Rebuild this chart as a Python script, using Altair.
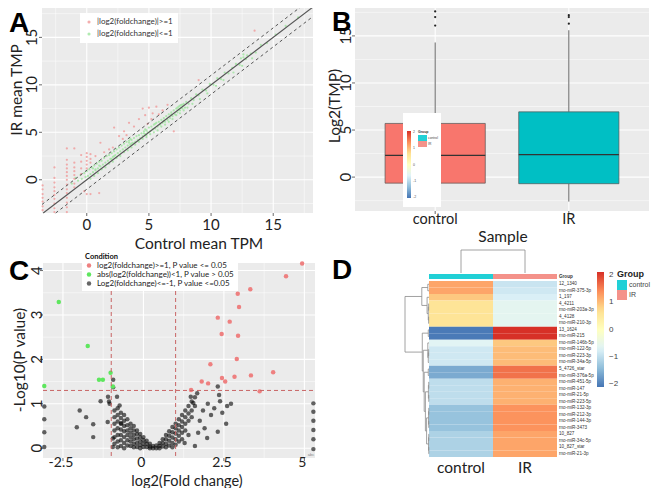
import altair as alt
import pandas as pd

OFF = 8
def P(v):
    return v - OFF

FONT = "Lato"
SANS = "Liberation Sans"
BG = "#EBEBEB"
TXT = "#222222"
ONE = pd.DataFrame({"k": [0]})

# ---------------- Panel A data ----------------
a_red_pts = [
    (-3.55, -0.6), (-3.55, -1.0), (-3.55, -1.5), (-3.55, -1.9), (-3.55, -2.3), (-3.55, -2.8), (-3.55, -3.2),
    (-2.6, 1.3), (-2.6, 0.2), (-2.6, -0.3), (-2.6, -0.8), (-2.6, -1.2), (-2.6, -1.6), (-2.6, -2.0), (-2.6, -2.5), (-2.6, -3.0), (-2.6, -3.4),
    (-1.6, 3.3), (-1.6, 2.1), (-1.6, 1.6), (-1.6, 1.2), (-1.6, 0.8), (-1.6, 0.4), (-1.6, 0.0), (-1.6, -0.5), (-1.6, -1.0), (-1.6, -1.4), (-1.6, -1.9), (-1.6, -2.4), (-1.6, -2.9), (-1.6, -3.4),
    (-1.0, 3.3), (-1.0, 1.8), (-1.0, 1.3), (-1.0, 0.9), (-1.0, 0.5), (-1.0, 0.1), (-1.0, -0.4), (-1.0, -0.8),
    (-0.45, 2.6), (-0.45, 1.9), (-0.45, 1.2), (-0.45, 0.6),
    (0.0, 2.8), (0.0, 2.4), (0.0, 2.0), (0.0, 1.6), (0.0, 1.2), (0.0, -1.5),
    (0.3, 2.7), (0.3, 2.2), (0.3, 1.8), (0.3, -1.5),
    (0.7, 2.5), (1.1, 3.9), (1.4, 2.9), (1.8, 3.2), (2.1, 3.4), (2.2, 5.5), (2.6, 4.6), (2.9, 4.3),
    (3.0, 5.1), (3.2, 4.7), (3.4, 6.0), (3.8, 5.6), (4.2, 6.4), (4.5, 7.5), (4.7, 6.8), (4.9, 5.9),
    (5.0, 7.6), (5.2, 6.4), (5.3, 7.0), (5.6, 7.7), (5.8, 6.9), (6.1, 7.3), (6.5, 7.9), (7.0, 5.1),
    (9.0, 10.5), (13.5, 15.7), (1.0, -1.4), (-0.2, -1.2),
]
a_green_pts = [
    (-1.2, -0.4), (-0.9, 0.2), (-0.7, -0.1), (-0.5, 0.5), (-0.4, 0.1), (-0.2, 0.7), (-0.1, 0.3), (0.0, 0.9),
    (0.1, 0.4), (0.2, 1.1), (0.3, 0.6), (0.4, 1.3), (0.5, 0.8), (0.6, 1.5), (0.7, 1.0), (0.8, 1.7), (0.9, 1.2),
    (1.0, 1.9), (1.1, 1.4), (1.2, 2.0), (1.3, 1.6), (1.4, 2.3), (1.5, 1.8), (1.6, 2.5), (1.7, 2.0), (1.8, 2.6),
    (1.9, 2.2), (2.0, 2.8), (2.1, 2.4), (2.2, 3.0), (2.3, 2.6), (2.4, 3.2), (2.5, 2.8), (2.6, 3.4), (2.7, 3.0),
    (2.8, 3.6), (2.9, 3.2), (3.0, 3.8), (3.1, 3.4), (3.2, 4.0), (3.3, 3.6), (3.4, 4.1), (3.5, 3.7), (3.6, 4.2),
    (3.7, 3.9), (3.8, 4.4), (3.9, 4.0), (4.0, 4.6), (4.1, 4.2), (4.2, 4.7), (4.3, 4.4), (4.4, 4.9), (4.5, 4.6),
    (4.6, 5.1), (4.7, 4.8), (4.8, 5.2), (4.9, 5.0), (5.0, 5.5), (5.1, 5.1), (5.2, 5.6), (5.3, 5.3), (5.4, 5.8),
    (5.5, 5.4), (5.6, 6.0), (5.7, 5.6), (5.8, 6.1), (5.9, 5.8), (6.0, 6.3), (6.1, 6.0), (6.2, 6.5), (6.3, 6.1),
    (6.4, 6.7), (6.5, 6.3), (6.6, 6.9), (6.7, 6.5), (6.8, 7.1), (6.9, 6.7), (7.0, 7.3), (7.1, 6.9), (7.2, 7.5),
    (7.3, 7.1), (7.4, 7.7), (7.5, 7.3), (7.6, 7.9), (7.7, 7.5), (7.8, 8.0), (7.9, 7.6), (8.0, 8.2), (8.2, 8.0),
    (8.4, 8.6), (8.6, 8.4), (8.8, 9.0), (9.0, 8.9), (9.3, 9.5), (9.6, 9.4), (9.9, 10.1), (10.2, 10.0),
    (10.5, 10.7), (10.8, 10.6), (11.1, 11.3), (11.4, 11.2), (11.7, 11.8), (12.0, 12.2), (12.3, 12.1),
    (12.6, 12.9), (12.9, 13.1), (13.2, 13.3), (13.6, 13.4), (14.0, 14.2), (14.5, 14.4), (15.2, 15.3),
    (16.0, 16.2), (17.0, 17.1),
    (0.3, 0.1), (0.6, 0.4), (0.9, 0.7), (1.2, 1.1), (1.5, 1.3), (1.8, 1.7), (2.1, 1.9), (2.4, 2.3), (2.7, 2.5),
    (3.0, 2.9), (3.3, 3.1), (3.6, 3.4), (3.9, 3.7), (4.2, 4.0), (4.5, 4.3), (4.8, 4.5), (5.1, 4.8), (5.4, 5.0),
    (5.7, 5.2), (6.0, 5.6), (6.3, 5.8), (6.6, 6.1), (6.9, 6.4), (7.2, 6.8), (7.5, 7.0), (7.8, 7.3), (8.1, 7.6),
    (8.5, 8.0), (9.1, 8.5), (9.7, 9.1), (10.4, 9.9), (11.0, 10.5), (11.8, 11.3), (12.5, 12.0), (13.3, 12.8),
    (3.4, 3.9), (3.5, 4.3), (3.6, 3.8), (4.6, 4.9), (4.7, 5.3), (4.8, 4.7), (7.4, 7.4), (7.5, 7.8), (7.6, 7.6),
    (7.7, 7.9), (7.3, 7.6), (12.4, 12.8), (12.6, 13.2), (12.8, 12.7), (2.0, 2.2), (2.2, 2.5), (1.0, 1.5),
    (0.5, 1.2), (0.7, 1.1), (5.5, 5.9), (6.2, 6.2), (6.8, 6.9),
]
a_labels = ["|log2(foldchange)|>=1", "|log2(foldchange)|<=1"]
a_ticks = [0, 5, 10, 15]
a_minor = [-2.5, 2.5, 7.5, 12.5, 17.5]

# ---------------- Panel B data ----------------
b_groups = ["control", "IR"]
b_pos = [1, 2]
b_lo = [-2.6, -2.6]
b_q1 = [-0.64, -0.7]
b_med = [2.31, 2.38]
b_q3 = [5.7, 6.93]
b_hi = [14.3, 15.6]
b_fill = ["#F8766D", "#00BFC4"]
b_out_pos = [1, 1, 1, 2, 2, 2]
b_out_y = [17.6, 17.0, 16.1, 17.2, 17.0, 16.3]
b_ticks = [0, 5, 10, 15]
b_minor = [-2.5, 2.5, 7.5, 12.5, 17.5]

# ---------------- Panel C data ----------------
c_red_pts = [
    (4.93, 4.16), (4.43, 3.87), (3.32, 3.58), (2.93, 3.48), (2.97, 3.18), (2.31, 2.94), (2.68, 2.85),
    (2.43, 2.57), (2.94, 2.53), (2.90, 2.01), (2.08, 1.89), (4.03, 1.71), (3.34, 1.64), (2.83, 1.61),
    (2.44, 1.58), (2.54, 1.50), (1.81, 1.50), (2.01, 1.46), (1.48, 1.31), (3.61, 1.28),
]
c_green_pts = [
    (-2.63, 3.29), (-1.73, 2.30), (-1.02, 1.70), (-1.38, 1.54), (-1.26, 1.54), (-0.95, 1.39), (-3.08, 1.40),
]
c_black_side = [
    (-3.08, 0.94), (-3.08, 0.65), (-3.08, 0.36), (-3.08, 0.03),
    (-2.07, 0.47), (-1.98, 0.85), (-1.78, 0.70), (-1.56, 0.54), (-1.56, 0.25), (-1.33, 1.06), (-1.05, 1.0),
    (-1.11, 0.59), (-1.10, 1.16), (-1.07, 1.05), (-0.94, 1.54), (-0.94, 1.37), (-0.82, 1.16), (-0.74, 0.96),
    (-0.95, 0.03), (-0.95, 0.22), (-0.69, 0.56),
    (1.28, 0.12), (1.67, 1.24), (1.47, 1.16), (1.55, 1.02), (2.0, 1.0), (2.31, 1.39), (2.35, 1.2), (2.38, 1.06),
    (2.72, 1.0), (2.57, 0.55), (2.31, 0.37), (1.98, 0.23), (1.6, 0.05), (2.1, 0.75), (1.85, 0.85), (1.75, 0.62),
    (2.2, 0.9), (2.45, 0.8), (1.9, 0.45), (2.6, 0.95), (1.4, 0.3), (1.7, 0.35),
    (5.28, 1.01), (5.28, 0.82), (5.28, 0.62), (5.28, 0.41), (5.28, 0.20), (5.28, -0.02),
]
c_black_cols = {
    -0.9: [0.85, 0.7, 0.55, 0.4, 0.25, 0.1],
    -0.8: [0.9, 0.75, 0.6, 0.45, 0.3, 0.15, 0.02],
    -0.7: [0.8, 0.68, 0.55, 0.42, 0.3, 0.18, 0.05],
    -0.6: [0.75, 0.62, 0.5, 0.38, 0.25, 0.12, 0.0],
    -0.5: [0.65, 0.52, 0.4, 0.3, 0.18, 0.06],
    -0.4: [0.55, 0.45, 0.35, 0.25, 0.15, 0.05],
    -0.3: [0.5, 0.4, 0.3, 0.2, 0.1, 0.02],
    -0.2: [0.4, 0.32, 0.22, 0.12, 0.03],
    -0.1: [0.32, 0.24, 0.15, 0.07, 0.0],
    0.0: [0.25, 0.18, 0.1, 0.03],
    0.1: [0.17, 0.1, 0.03],
    0.2: [0.1, 0.04, 0.0],
    0.3: [0.05, 0.0],
    0.4: [0.06, 0.0],
    0.5: [0.12, 0.05, 0.0],
    0.6: [0.2, 0.12, 0.04],
    0.7: [0.3, 0.2, 0.1, 0.02],
    0.8: [0.38, 0.28, 0.17, 0.06],
    0.9: [0.48, 0.36, 0.24, 0.12, 0.02],
    1.0: [0.55, 0.45, 0.33, 0.2, 0.08],
    1.1: [0.65, 0.52, 0.4, 0.28, 0.15],
    1.2: [0.75, 0.6, 0.48, 0.35, 0.2],
    1.3: [0.85, 0.7, 0.55, 0.4],
    1.4: [0.95, 0.78, 0.62],
    1.5: [1.05, 0.85, 0.7],
    1.6: [1.15, 0.95],
}
c_labels = ["log2(foldchange)>=1, P value <= 0.05",
            "abs(log2(foldchange))<1, P value > 0.05",
            "Log2(foldchange)<=-1, P value <=0.05"]
c_xticks = [-2.5, 0, 2.5, 5]
c_xtick_labels = ["-2.5", "0", "2.5", "5"]
c_xminor = [-1.25, 1.25, 3.75]
c_yticks = [0, 1, 2, 3, 4]
c_yminor = [0.5, 1.5, 2.5, 3.5]

# ---------------- Panel D data ----------------
d_rows = ["12_1340", "rno-miR-375-3p", "1_197", "4_4211", "rno-miR-203a-3p", "4_4128", "rno-miR-210-3p",
          "13_1624", "rno-miR-215", "rno-miR-146b-5p", "rno-miR-122-5p", "rno-miR-223-3p", "rno-miR-34a-5p",
          "5_4726_star", "rno-miR-376a-5p", "rno-miR-451-5p", "rno-miR-147", "rno-miR-21-5p", "rno-miR-223-5p",
          "rno-miR-132-3p", "rno-miR-212-3p", "rno-miR-144-3p", "rno-miR-3473", "10_827", "rno-miR-34c-5p",
          "10_827_star", "rno-miR-21-3p"]
d_control = [1.2, 1.2, 0.9, 0.6, 0.6, 0.6, 0.6, -2.05, -2.05, -0.65, -0.85, -0.85, -0.85, -1.6, -1.6,
             -1.0, -1.0, -1.0, -1.0, -1.35, -1.35, -1.35, -1.35, -1.15, -1.15, -1.15, -1.15]
d_ir = [-0.9, -0.85, -0.75, -0.6, -0.6, -0.6, -0.6, 2.1, 2.1, 0.9, 1.0, 1.0, 1.0, 1.6, 1.6,
        1.1, 1.1, 1.1, 1.1, 1.35, 1.35, 1.35, 1.35, 1.2, 1.2, 1.2, 1.2]
d_cols = ["control", "IR"]
d_group_colors = ["#21D0D6", "#F4928A"]
d_heat_colors = ["#4575B4", "#91BFDB", "#E0F3F8", "#FFFFBF", "#FEE090", "#FC8D59", "#D73027"]
d_heat_stops = [-2.1, -1.4, -0.7, 0.0, 0.7, 1.4, 2.1]
# row dendrogram merges (child a, child b, height)
d_merges = [(0, 1, 0.05), (3, 4, 0.015), (5, 6, 0.015), (28, 29, 0.03), (2, 30, 0.08), (27, 31, 0.3),
            (7, 8, 0.03), (10, 11, 0.015), (34, 12, 0.03), (9, 35, 0.05), (13, 14, 0.03),
            (15, 16, 0.01), (17, 18, 0.01), (38, 39, 0.025), (19, 20, 0.01), (21, 22, 0.01),
            (41, 42, 0.02), (23, 24, 0.01), (25, 26, 0.01), (44, 45, 0.02), (43, 46, 0.1),
            (40, 47, 0.15), (37, 48, 0.2), (36, 49, 0.24), (33, 50, 0.28), (32, 51, 1.0)]


# ---------------- helpers ----------------
def lin(domain, r0, r1):
    return alt.Scale(domain=domain, range=[P(r0), P(r1)], nice=False, zero=False)


def box(x0, x1, y0, y1, color):
    return alt.Chart(ONE).mark_rect(color=color).encode(
        x=alt.value(P(x0)), x2=alt.value(P(x1)), y=alt.value(P(y0)), y2=alt.value(P(y1)))


def vrules(values, xs, y0, y1, color="white", width=1.0, dash=None):
    kw = dict(color=color, strokeWidth=width)
    if dash:
        kw["strokeDash"] = dash
    return alt.Chart(pd.DataFrame({"v": values})).mark_rule(**kw).encode(
        x=alt.X("v:Q", scale=xs, axis=None), y=alt.value(P(y0)), y2=alt.value(P(y1)))


def hrules(values, ys, x0, x1, color="white", width=1.0, dash=None):
    kw = dict(color=color, strokeWidth=width)
    if dash:
        kw["strokeDash"] = dash
    return alt.Chart(pd.DataFrame({"v": values})).mark_rule(**kw).encode(
        y=alt.Y("v:Q", scale=ys, axis=None), x=alt.value(P(x0)), x2=alt.value(P(x1)))


def xlabels(values, texts, xs, ypage, size=15, dx=0):
    df = pd.DataFrame({"v": values, "t": texts})
    return alt.Chart(df).mark_text(font=FONT, fontSize=size, color=TXT, align="center",
                                   baseline="middle", dx=dx).encode(
        x=alt.X("v:Q", scale=xs, axis=None), y=alt.value(P(ypage)), text="t:N")


def ylabels(values, texts, ys, xpage, size=15):
    df = pd.DataFrame({"v": values, "t": texts})
    return alt.Chart(df).mark_text(font=FONT, fontSize=size, color=TXT, align="center",
                                   baseline="middle", angle=270).encode(
        y=alt.Y("v:Q", scale=ys, axis=None), x=alt.value(P(xpage)), text="t:N")


def label(text, x, y, size, angle=0, weight="normal", font=FONT, align="center",
          baseline="middle", color=TXT):
    return alt.Chart(ONE).mark_text(text=text, font=font, fontSize=size, angle=angle,
                                    fontWeight=weight, align=align, baseline=baseline,
                                    color=color).encode(x=alt.value(P(x)), y=alt.value(P(y)))


layers = []

# ================= Panel A =================
AX = lin([-3.6, 18.2], 42, 313)
AY = lin([-3.5, 18.2], 213, 7)
layers.append(box(42, 313, 7, 213, BG))
layers.append(vrules(a_minor, AX, 7, 213, width=0.5))
layers.append(hrules(a_minor, AY, 42, 313, width=0.5))
layers.append(vrules(a_ticks, AX, 7, 213, width=1.1))
layers.append(hrules(a_ticks, AY, 42, 313, width=1.1))

a_df = pd.DataFrame(
    [(x, y, a_labels[1]) for x, y in a_green_pts] + [(x, y, a_labels[0]) for x, y in a_red_pts],
    columns=["x", "y", "cat"])
layers.append(alt.Chart(a_df).mark_circle(size=5, opacity=0.8).encode(
    x=alt.X("x:Q", scale=AX, axis=None),
    y=alt.Y("y:Q", scale=AY, axis=None),
    color=alt.Color("cat:N", scale=alt.Scale(domain=a_labels, range=["#F09A9A", "#9DE59D"]),
                    legend=alt.Legend(title=None, orient="none", legendX=P(80), legendY=P(13),
                                      fillColor="white", padding=5, labelFontSize=8, labelFont=FONT,
                                      labelColor="#333", symbolSize=10, rowPadding=4,
                                      symbolType="circle", labelLimit=200))))

# reference lines y = x, y = x +/- 1
a_lines = pd.DataFrame({
    "x": [-3.5, 18.2, -3.6, 17.2, -2.5, 18.2],
    "y": [-3.5, 18.2, -2.6, 18.2, -3.5, 17.2],
    "g": ["mid", "mid", "up", "up", "lo", "lo"]})
layers.append(alt.Chart(a_lines[a_lines.g == "mid"]).mark_line(color="#555555", strokeWidth=1.1).encode(
    x=alt.X("x:Q", scale=AX, axis=None), y=alt.Y("y:Q", scale=AY, axis=None)))
for g in ["up", "lo"]:
    layers.append(alt.Chart(a_lines[a_lines.g == g]).mark_line(
        color="#555555", strokeWidth=1.0, strokeDash=[3, 3]).encode(
        x=alt.X("x:Q", scale=AX, axis=None), y=alt.Y("y:Q", scale=AY, axis=None)))

layers.append(vrules(a_ticks, AX, 213, 216, color="#444", width=0.8))
layers.append(hrules(a_ticks, AY, 39, 42, color="#444", width=0.8))
layers.append(xlabels(a_ticks, [str(t) for t in a_ticks], AX, 225, 15))
layers.append(ylabels(a_ticks, [str(t) for t in a_ticks], AY, 32, 15))
layers.append(label("Control mean TPM", 199, 244, 15.5))
layers.append(label("IR mean TMP", 17, 90, 15.5, angle=270))
layers.append(label("A", 9, 32, 28, weight="bold", font=SANS, align="left", baseline="alphabetic", color="black"))

# ================= Panel B =================
BX = lin([0.4, 2.6], 355, 649)
BY = lin([-3.6, 18.6], 211, 2)
layers.append(box(355, 649, 2, 211, BG))
layers.append(hrules(b_minor, BY, 355, 649, width=0.5))
layers.append(hrules(b_ticks, BY, 355, 649, width=1.1))
layers.append(vrules(b_pos, BX, 2, 211, width=1.1))

b_df = pd.DataFrame({"g": b_groups, "pos": b_pos, "lo": b_lo, "q1": b_q1, "med": b_med,
                     "q3": b_q3, "hi": b_hi, "fill": b_fill})
b_df["left"] = b_df["pos"] - 0.375
b_df["right"] = b_df["pos"] + 0.375
layers.append(alt.Chart(b_df).mark_rule(color="#555555", strokeWidth=0.9).encode(
    x=alt.X("pos:Q", scale=BX, axis=None), y=alt.Y("q3:Q", scale=BY, axis=None), y2="hi:Q"))
layers.append(alt.Chart(b_df).mark_rule(color="#555555", strokeWidth=0.9).encode(
    x=alt.X("pos:Q", scale=BX, axis=None), y=alt.Y("lo:Q", scale=BY, axis=None), y2="q1:Q"))
layers.append(alt.Chart(b_df).mark_rect(stroke="#555555", strokeWidth=0.7).encode(
    x=alt.X("left:Q", scale=BX, axis=None), x2="right:Q",
    y=alt.Y("q1:Q", scale=BY, axis=None), y2="q3:Q",
    fill=alt.Fill("fill:N", scale=None)))
layers.append(alt.Chart(b_df).mark_rule(color="#333333", strokeWidth=1.3).encode(
    x=alt.X("left:Q", scale=BX, axis=None), x2="right:Q",
    y=alt.Y("med:Q", scale=BY, axis=None)))
b_out = pd.DataFrame({"pos": b_out_pos, "y": b_out_y})
layers.append(alt.Chart(b_out).mark_circle(size=5, color="#222222", opacity=1).encode(
    x=alt.X("pos:Q", scale=BX, axis=None), y=alt.Y("y:Q", scale=BY, axis=None)))

layers.append(vrules(b_pos, BX, 211, 214, color="#444", width=0.8))
layers.append(hrules(b_ticks, BY, 352, 355, color="#444", width=0.8))
layers.append(xlabels(b_pos, b_groups, BX, 220, 14.5))
layers.append(ylabels(b_ticks, [str(t) for t in b_ticks], BY, 346, 15))
layers.append(label("Sample", 503, 237, 15.5))
layers.append(label("Log2(TMP)", 335, 106, 15.5, angle=270))

# pasted legend overlay inside panel B
layers.append(box(403, 441, 113, 207, "white"))
grad = alt.LinearGradient(gradient="linear", x1=0, x2=0, y1=0, y2=1,
                          stops=[alt.GradientStop(color=c, offset=i / 6)
                                 for i, c in enumerate(reversed(d_heat_colors))])
layers.append(alt.Chart(ONE).mark_rect(color=grad).encode(
    x=alt.value(P(407)), x2=alt.value(P(411)), y=alt.value(P(131)), y2=alt.value(P(198))))
for t, yy in zip(["2", "1", "0", "-1", "-2"], [132, 148, 165, 181, 197]):
    layers.append(label(t, 413, yy, 3.5, font=SANS, align="left", color="#555"))
layers.append(label("Group", 418, 132, 3.5, weight="bold", font=SANS, align="left", color="#333"))
layers.append(box(418, 427, 135, 141, d_group_colors[0]))
layers.append(box(418, 427, 141, 147, d_group_colors[1]))
layers.append(label("control", 428, 138, 3.3, font=SANS, align="left", color="#444"))
layers.append(label("IR", 428, 144, 3.3, font=SANS, align="left", color="#444"))
layers.append(label("B", 332, 31, 27, weight="bold", font=SANS, align="left", baseline="alphabetic", color="black"))

# ================= Panel C =================
CX = lin([-3.12, 5.33], 43, 315)
CY = lin([-0.22, 4.17], 458, 263)
layers.append(box(43, 315, 263, 458, BG))
layers.append(vrules(c_xminor, CX, 263, 458, width=0.5))
layers.append(hrules(c_yminor, CY, 43, 315, width=0.5))
layers.append(vrules(c_xticks, CX, 263, 458, width=1.1))
layers.append(hrules(c_yticks, CY, 43, 315, width=1.1))

black_pts = list(c_black_side)
for xk, ys in c_black_cols.items():
    black_pts += [(xk, yv) for yv in ys]
c_df = pd.DataFrame(
    [(x, y, c_labels[2]) for x, y in black_pts] +
    [(x, y, c_labels[1]) for x, y in c_green_pts] +
    [(x, y, c_labels[0]) for x, y in c_red_pts],
    columns=["x", "y", "cat"])
layers.append(alt.Chart(c_df).mark_circle(size=20, opacity=1).encode(
    x=alt.X("x:Q", scale=CX, axis=None),
    y=alt.Y("y:Q", scale=CY, axis=None),
    color=alt.Color("cat:N", scale=alt.Scale(domain=c_labels,
                                             range=["#EE8080", "#5EE65E", "rgba(0,0,0,0.6)"]),
                    legend=alt.Legend(title="Condition", orient="none", legendX=P(82), legendY=P(250),
                                      fillColor="white", padding=3, titleFontSize=7.5, titleFont=FONT,
                                      titleFontWeight="bold", titlePadding=1, titleColor="#111",
                                      labelFontSize=8, labelFont=FONT, labelColor="#222",
                                      symbolSize=20, rowPadding=1, labelLimit=250,
                                      symbolType="circle"))))
layers.append(vrules([-1, 1], CX, 263, 458, color="#C86464", width=1.0, dash=[4, 3]))
layers.append(hrules([1.301], CY, 43, 315, color="#C86464", width=1.0, dash=[4, 3]))

layers.append(vrules(c_xticks, CX, 458, 461, color="#444", width=0.8))
layers.append(hrules(c_yticks, CY, 40, 43, color="#444", width=0.8))
layers.append(xlabels(c_xticks, c_xtick_labels, CX, 463, 14, dx=-2))
layers.append(ylabels(c_yticks, [str(t) for t in c_yticks], CY, 37, 15))
layers.append(label("log2(Fold change)", 187, 486, 14.5, baseline="alphabetic"))
layers.append(label("-Log10(P value)", 20, 360, 15.5, angle=270))
layers.append(label("abc", 311, 455, 4, font=SANS, color="#888"))
layers.append(label("C", 9, 280, 28, weight="bold", font=SANS, align="left", baseline="alphabetic", color="black"))

# ================= Panel D =================
DX = lin([0, 2], 429, 557)
DR = lin([0, 27], 281, 457)
DH = lin([0, 1], 429, 405)
DT = lin([0, 1], 273, 250)

heat = pd.DataFrame(
    [(ci, ci + 1, ri, ri + 1, v) for ri in range(len(d_rows))
     for ci, v in enumerate([d_control[ri], d_ir[ri]])],
    columns=["c0", "c1", "r0", "r1", "v"])
layers.append(alt.Chart(heat).mark_rect().encode(
    x=alt.X("c0:Q", scale=DX, axis=None), x2="c1:Q",
    y=alt.Y("r0:Q", scale=DR, axis=None), y2="r1:Q",
    color=alt.Color("v:Q", scale=alt.Scale(domain=d_heat_stops, range=d_heat_colors, interpolate="rgb"),
                    legend=alt.Legend(title=None, orient="none", legendX=P(597), legendY=P(272),
                                      gradientLength=115, gradientThickness=7, labelFontSize=8,
                                      labelFont=SANS, labelColor="#444", values=[-2, -1, 0, 1, 2],
                                      labelOverlap=False, gradientStrokeWidth=0, direction="vertical",
                                      labelOffset=5))))

ann = pd.DataFrame({"c0": [0, 1], "c1": [1, 2], "Group": d_cols})
layers.append(alt.Chart(ann).mark_rect().encode(
    x=alt.X("c0:Q", scale=DX, axis=None), x2="c1:Q",
    y=alt.value(P(274)), y2=alt.value(P(279)),
    color=alt.Color("Group:N", scale=alt.Scale(domain=d_cols, range=d_group_colors),
                    legend=alt.Legend(title="Group", orient="none", legendX=P(617), legendY=P(270),
                                      titleFontSize=9, titleFont=SANS, titleFontWeight="bold",
                                      titlePadding=1, titleColor="#222", labelFontSize=7, labelFont=SANS,
                                      labelColor="#444", symbolType="square", symbolSize=100,
                                      symbolStrokeWidth=0, rowPadding=0, labelOffset=2))))

# dendrograms
pos = {i: i + 0.5 for i in range(len(d_rows))}
hgt = {i: 0.0 for i in range(len(d_rows))}
segs = []
nid = len(d_rows)
for a, b, h in d_merges:
    for c in (a, b):
        segs.append((hgt[c], h, pos[c], pos[c]))
    segs.append((h, h, pos[a], pos[b]))
    pos[nid] = (pos[a] + pos[b]) / 2
    hgt[nid] = h
    nid += 1
seg_df = pd.DataFrame(segs, columns=["h1", "h2", "r1", "r2"])
layers.append(alt.Chart(seg_df).mark_rule(color="#8A8A8A", strokeWidth=0.8).encode(
    x=alt.X("h1:Q", scale=DH, axis=None), x2="h2:Q",
    y=alt.Y("r1:Q", scale=DR, axis=None), y2="r2:Q"))
top_df = pd.DataFrame({"c1": [0.5, 1.5, 0.5], "c2": [0.5, 1.5, 1.5], "h1": [0, 0, 1], "h2": [1, 1, 1]})
layers.append(alt.Chart(top_df).mark_rule(color="#8A8A8A", strokeWidth=0.8).encode(
    x=alt.X("c1:Q", scale=DX, axis=None), x2="c2:Q",
    y=alt.Y("h1:Q", scale=DT, axis=None), y2="h2:Q"))

rl = pd.DataFrame({"r": [i + 0.5 for i in range(len(d_rows))], "t": d_rows})
layers.append(alt.Chart(rl).mark_text(font=SANS, fontSize=4.6, color="#333", align="left",
                                      baseline="middle").encode(
    x=alt.value(P(559)), y=alt.Y("r:Q", scale=DR, axis=None), text="t:N"))
layers.append(label("Group", 559, 276.5, 4.6, weight="bold", font=SANS, align="left", color="#333"))
layers.append(xlabels([0.5, 1.5], d_cols, DX, 468, 15.5))
layers.append(label("D", 332, 279, 28, weight="bold", font=SANS, align="left", baseline="alphabetic", color="black"))

chart = alt.layer(*layers).resolve_scale(
    x="independent", y="independent", color="independent", fill="independent"
).properties(
    width=644, height=480, autosize=alt.AutoSizeParams(type="none"), padding=0
).configure(background="white").configure_view(stroke=None)

chart.save("out.html", embed_options={"renderer": "svg", "actions": False})
